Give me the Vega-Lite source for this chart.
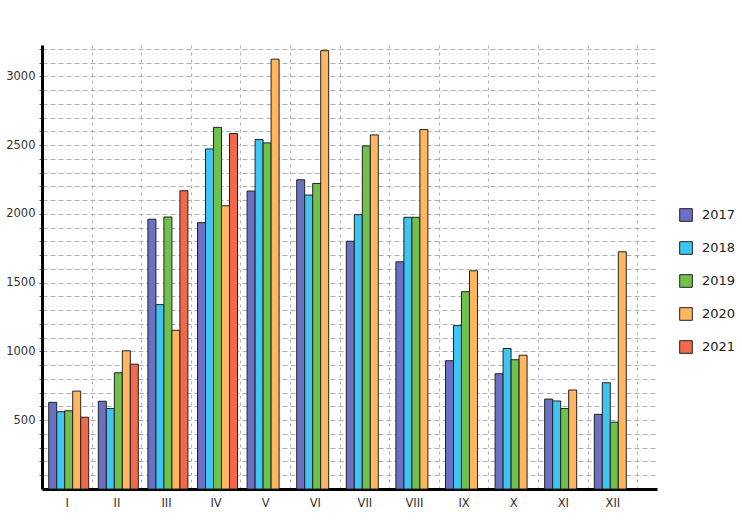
{
  "$schema": "https://vega.github.io/schema/vega-lite/v6.json",
  "width": 615,
  "height": 444,
  "autosize": {"type": "none"},
  "padding": {"left": 42, "top": 45, "right": 85, "bottom": 42},
  "background": "white",
  "data": {
    "values": [
      {"month": "I", "year": "2017", "value": 630},
      {"month": "I", "year": "2018", "value": 562},
      {"month": "I", "year": "2019", "value": 569},
      {"month": "I", "year": "2020", "value": 712},
      {"month": "I", "year": "2021", "value": 522},
      {"month": "II", "year": "2017", "value": 638},
      {"month": "II", "year": "2018", "value": 585},
      {"month": "II", "year": "2019", "value": 845},
      {"month": "II", "year": "2020", "value": 1005},
      {"month": "II", "year": "2021", "value": 908},
      {"month": "III", "year": "2017", "value": 1962},
      {"month": "III", "year": "2018", "value": 1341},
      {"month": "III", "year": "2019", "value": 1978},
      {"month": "III", "year": "2020", "value": 1154},
      {"month": "III", "year": "2021", "value": 2169},
      {"month": "IV", "year": "2017", "value": 1937},
      {"month": "IV", "year": "2018", "value": 2473},
      {"month": "IV", "year": "2019", "value": 2630},
      {"month": "IV", "year": "2020", "value": 2060},
      {"month": "IV", "year": "2021", "value": 2585},
      {"month": "V", "year": "2017", "value": 2167},
      {"month": "V", "year": "2018", "value": 2541},
      {"month": "V", "year": "2019", "value": 2517},
      {"month": "V", "year": "2020", "value": 3126},
      {"month": "VI", "year": "2017", "value": 2249},
      {"month": "VI", "year": "2018", "value": 2138},
      {"month": "VI", "year": "2019", "value": 2222},
      {"month": "VI", "year": "2020", "value": 3188},
      {"month": "VII", "year": "2017", "value": 1802},
      {"month": "VII", "year": "2018", "value": 1995},
      {"month": "VII", "year": "2019", "value": 2495},
      {"month": "VII", "year": "2020", "value": 2575},
      {"month": "VIII", "year": "2017", "value": 1652},
      {"month": "VIII", "year": "2018", "value": 1976},
      {"month": "VIII", "year": "2019", "value": 1976},
      {"month": "VIII", "year": "2020", "value": 2614},
      {"month": "IX", "year": "2017", "value": 933},
      {"month": "IX", "year": "2018", "value": 1188},
      {"month": "IX", "year": "2019", "value": 1435},
      {"month": "IX", "year": "2020", "value": 1587},
      {"month": "X", "year": "2017", "value": 838},
      {"month": "X", "year": "2018", "value": 1022},
      {"month": "X", "year": "2019", "value": 940},
      {"month": "X", "year": "2020", "value": 973},
      {"month": "XI", "year": "2017", "value": 654},
      {"month": "XI", "year": "2018", "value": 640},
      {"month": "XI", "year": "2019", "value": 585},
      {"month": "XI", "year": "2020", "value": 720},
      {"month": "XII", "year": "2017", "value": 543},
      {"month": "XII", "year": "2018", "value": 773},
      {"month": "XII", "year": "2019", "value": 486},
      {"month": "XII", "year": "2020", "value": 1725}
    ]
  },
  "mark": {"type": "bar", "stroke": "#222", "strokeWidth": 1},
  "encoding": {
    "x": {
      "field": "month",
      "type": "nominal",
      "sort": ["I", "II", "III", "IV", "V", "VI", "VII", "VIII", "IX", "X", "XI", "XII"],
      "scale": {"paddingInner": 0, "paddingOuter": 0.2, "align": 0},
      "axis": {
        "title": null,
        "labelAngle": 0,
        "tickBand": "extent",
        "ticks": false,
        "grid": true,
        "gridDash": [3, 4],
        "gridColor": "#b0b0b0",
        "gridWidth": 1,
        "domainColor": "#000",
        "domainWidth": 3,
        "labelPadding": 8,
        "labelFontSize": 11.5,
        "labelColor": "#333",
        "labelFont": "DejaVu Sans"
      }
    },
    "xOffset": {
      "field": "year",
      "type": "nominal",
      "scale": {"domain": ["2017", "2018", "2019", "2020", "2021"], "paddingInner": 0, "paddingOuter": 0.6, "align": 0.7}
    },
    "y": {
      "field": "value",
      "type": "quantitative",
      "scale": {"domain": [0, 3229], "nice": false},
      "axis": {
        "title": null,
        "values": [100, 200, 300, 400, 500, 600, 700, 800, 900, 1000, 1100, 1200, 1300, 1400, 1500, 1600, 1700, 1800, 1900, 2000, 2100, 2200, 2300, 2400, 2500, 2600, 2700, 2800, 2900, 3000, 3100, 3200],
        "labelExpr": "datum.value % 500 === 0 ? datum.value : ''",
        "grid": true,
        "gridDash": [5, 3],
        "gridColor": "#b0b0b0",
        "gridWidth": 1,
        "ticks": true,
        "tickSize": 3,
        "tickColor": "#555",
        "domainColor": "#000",
        "domainWidth": 3,
        "labelPadding": 4,
        "labelFontSize": 11.5,
        "labelColor": "#333",
        "labelFont": "DejaVu Sans"
      }
    },
    "color": {
      "field": "year",
      "type": "nominal",
      "scale": {
        "domain": ["2017", "2018", "2019", "2020", "2021"],
        "range": ["#6b70c4", "#3fc5f1", "#70c14b", "#ffb65e", "#f3684a"]
      },
      "legend": {
        "title": null,
        "orient": "none",
        "legendX": 637,
        "legendY": 163,
        "symbolType": "square",
        "symbolSize": 160,
        "symbolStrokeColor": "#222",
        "symbolStrokeWidth": 1,
        "symbolOpacity": 1,
        "rowPadding": 15,
        "labelFontSize": 13,
        "labelColor": "#222",
        "labelFont": "DejaVu Sans",
        "labelOffset": 9
      }
    }
  },
  "config": {
    "view": {"stroke": null}
  }
}
